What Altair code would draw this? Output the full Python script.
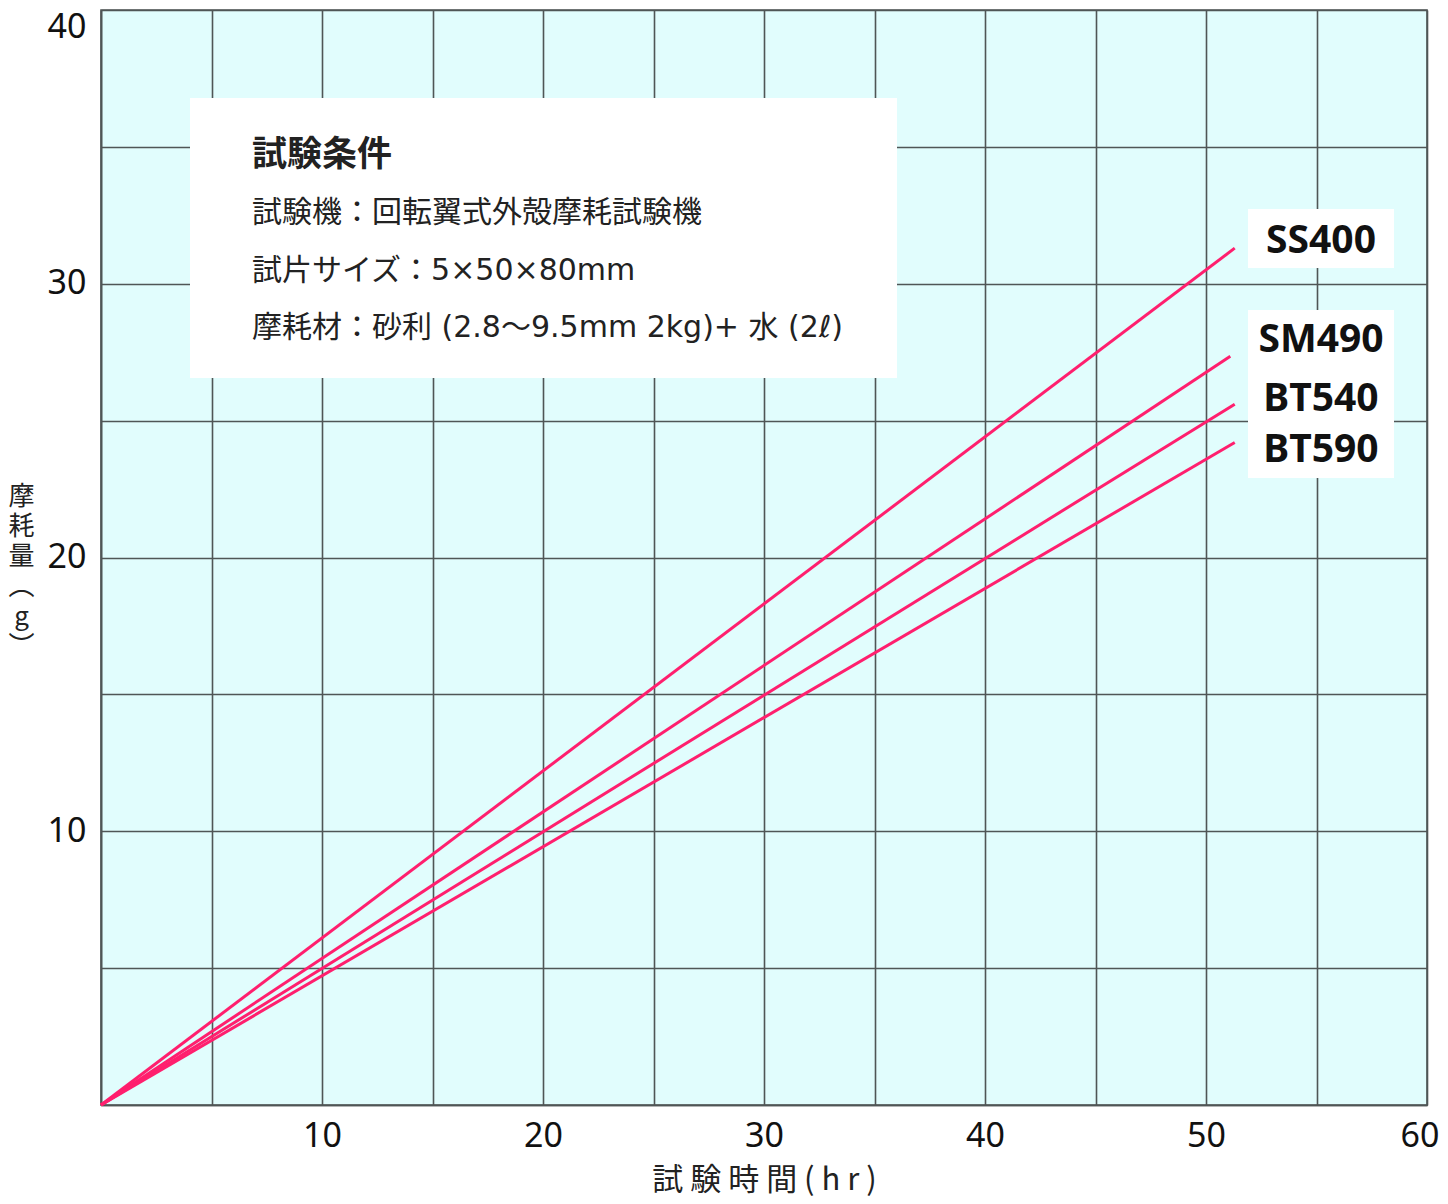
import altair as alt
import pandas as pd

# ---- data ----
series = ["SS400", "SM490", "BT540", "BT590"]
end_hours = [51.3, 51.1, 51.3, 51.3]
end_wear = [31.3, 27.35, 25.6, 24.2]
label_dy = [-7, -16, -5, 7]

x_ticks = [0, 5, 10, 15, 20, 25, 30, 35, 40, 45, 50, 55, 60]
y_ticks = [0, 5, 10, 15, 20, 25, 30, 35, 40]

cond_title = "試験条件"
cond_lines = [
    "試験機：回転翼式外殻摩耗試験機",
    "試片サイズ：5×50×80mm",
    "摩耗材：砂利 (2.8〜9.5mm 2kg)+ 水 (2ℓ)",
]
x_title = "試 験 時 間 ( h r )"
y_title = ["摩", "耗", "量", "︵", "g", "︶"]

rows = []
for s, h, w in zip(series, end_hours, end_wear):
    rows.append({"series": s, "hours": 0.0, "wear": 0.0})
    rows.append({"series": s, "hours": h, "wear": w})
lines_df = pd.DataFrame(rows)
ends_df = pd.DataFrame({"series": series, "hours": end_hours, "wear": end_wear})

W, H = 1326, 1095
GRID = "#4f5656"
PINK = "#ff1f6e"
CJK = "Noto Sans CJK JP"
MIX = "'DejaVu Sans', 'Noto Sans CJK JP'"
LABEL_EXPR = "datum.value % 10 == 0 && datum.value > 0 ? datum.label : ''"

x_enc = alt.X(
    "hours:Q",
    scale=alt.Scale(domain=[0, 60], nice=False, zero=True),
    axis=alt.Axis(
        values=x_ticks,
        labelExpr=LABEL_EXPR,
        title=x_title,
        titleFont=CJK,
        titleFontSize=31,
        titleFontWeight="normal",
        titleColor="#222222",
        titleY=75,
        titleBaseline="middle",
        labelFont="Noto Sans",
        labelFontSize=34,
        labelColor="#111111",
        labelPadding=14,
        labelBaseline="top",
        labelFlush=True,
        labelFlushOffset=12,
        labelOverlap=False,
        ticks=False,
        tickSize=0,
        grid=True,
        gridColor=GRID,
        gridWidth=1.6,
        domainColor=GRID,
        domainWidth=1.6,
    ),
)
y_enc = alt.Y(
    "wear:Q",
    scale=alt.Scale(domain=[0, 40], nice=False, zero=True),
    axis=alt.Axis(
        values=y_ticks,
        labelExpr=LABEL_EXPR,
        title=y_title,
        titleAngle=0,
        titleX=-80,
        titleY=473,
        titleAlign="center",
        titleBaseline="top",
        titleLineHeight=30,
        titleFont=CJK,
        titleFontSize=26,
        titleFontWeight="normal",
        titleColor="#222222",
        labelFont="Noto Sans",
        labelFontSize=34,
        labelColor="#111111",
        labelPadding=15,
        labelBaseline={"condition": {"test": "datum.value == 40", "value": "top"}, "value": "middle"},
        labelFlush=False,
        labelOverlap=False,
        ticks=False,
        tickSize=0,
        grid=True,
        gridColor=GRID,
        gridWidth=1.6,
        domainColor=GRID,
        domainWidth=1.6,
    ),
)

lines = alt.Chart(lines_df).mark_line(color=PINK, strokeWidth=3).encode(
    x=x_enc, y=y_enc, detail="series:N"
)

one = pd.DataFrame({"a": [0]})
# conditions box
box = alt.Chart(one).mark_rect(color="white").encode(
    x=alt.value(89), x2=alt.value(796), y=alt.value(88), y2=alt.value(368)
)
box_title = alt.Chart(one).mark_text(
    font=CJK, fontSize=35, fontWeight="bold", align="left", baseline="middle", color="#222222"
).encode(x=alt.value(151), y=alt.value(145), text=alt.value(cond_title))
box_lines = []
for i, t in enumerate(cond_lines):
    box_lines.append(
        alt.Chart(one).mark_text(
            font=MIX, fontSize=30, align="left", baseline="middle", color="#222222"
        ).encode(x=alt.value(151), y=alt.value(203 + 57.5 * i), text=alt.value(t))
    )

# label boxes
lbox1 = alt.Chart(one).mark_rect(color="white").encode(
    x=alt.value(1147), x2=alt.value(1293), y=alt.value(199), y2=alt.value(258)
)
lbox2 = alt.Chart(one).mark_rect(color="white").encode(
    x=alt.value(1147), x2=alt.value(1293), y=alt.value(300), y2=alt.value(468)
)
labels = []
for s, dy in zip(series, label_dy):
    labels.append(
        alt.Chart(ends_df).transform_filter(alt.datum.series == s).mark_text(
            font="Noto Sans", fontSize=39, fontWeight="bold", align="center",
            baseline="middle", color="#111111", dy=dy
        ).encode(x=alt.value(1220), y=alt.Y("wear:Q"), text="series:N")
    )

chart = alt.layer(
    lines, box, box_title, *box_lines, lbox1, lbox2, *labels
).properties(
    width=W, height=H,
    autosize=alt.AutoSizeParams(type="none"),
    padding={"left": 93, "top": 2, "right": 13, "bottom": 91},
).configure_view(
    fill="#e1fdfd", stroke=GRID, strokeWidth=1.6
)

chart.save("out.html", embed_options={"renderer": "svg", "actions": False})
